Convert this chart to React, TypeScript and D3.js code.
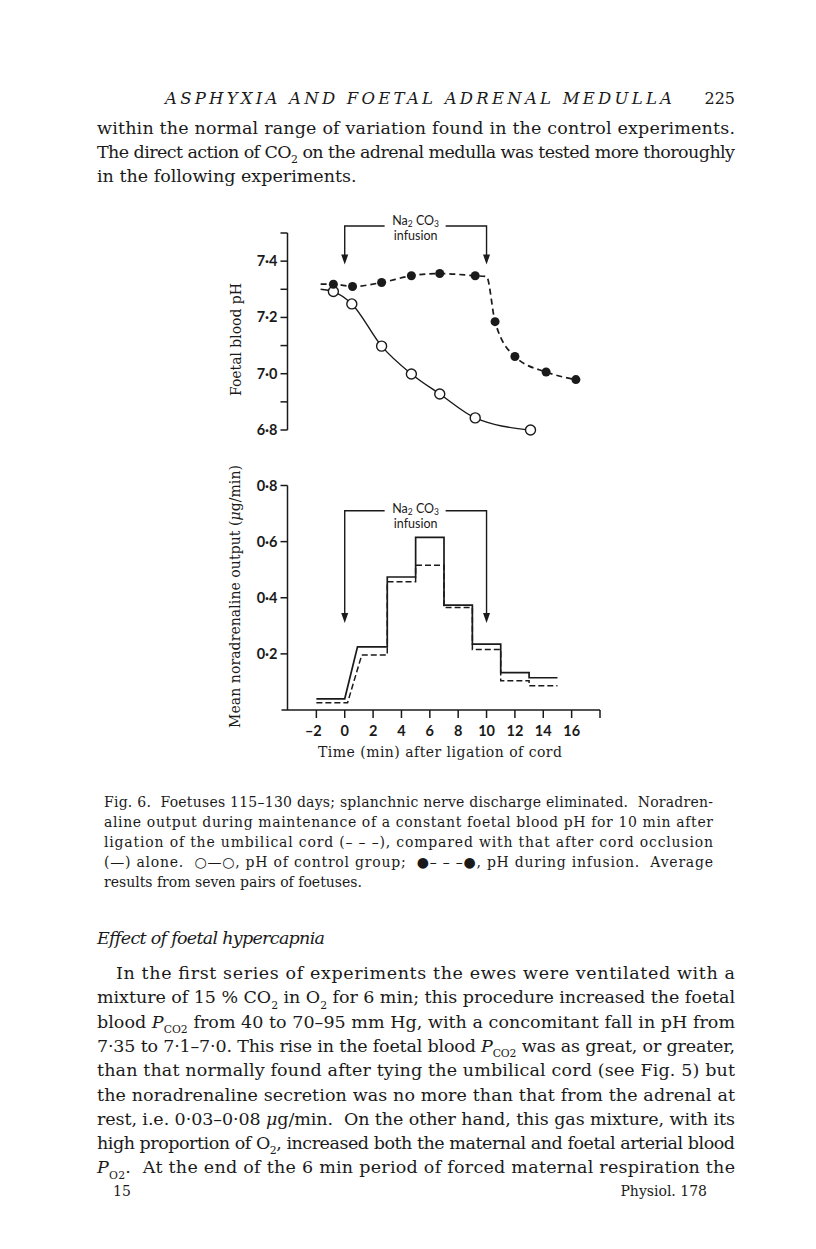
import React from "react";
import * as d3 from "d3";

// ---------- figure data ----------
const timeTicks = [-2, 0, 2, 4, 6, 8, 10, 12, 14, 16, 18];
const timeLabels = [-2, 0, 2, 4, 6, 8, 10, 12, 14, 16];
const phTicks = [6.8, 6.9, 7.0, 7.1, 7.2, 7.3, 7.4, 7.5];
const phLabels = [6.8, 7.0, 7.2, 7.4];
const outTicks = [0.2, 0.4, 0.6, 0.8];

// pH of control group (open circles, solid line)
const ctrlTime = [-0.8, 0.5, 2.6, 4.7, 6.7, 9.2, 13.1];
const ctrlPH = [7.292, 7.248, 7.098, 6.999, 6.928, 6.843, 6.8];
// pH during infusion (filled circles, dashed line)
const infTime = [-0.8, 0.55, 2.6, 4.7, 6.7, 9.2, 10.6, 12.0, 14.2, 16.3];
const infPH = [7.318, 7.31, 7.324, 7.348, 7.356, 7.348, 7.185, 7.061, 7.006, 6.979];
// extra knots of the drawn curves (lead-in and knee)
const ctrlLeadIn = { t: -1.7, v: 7.3 };
const infLeadIn = { t: -1.7, v: 7.318 };
const infKnee = { t: 10.0, v: 7.345 };

// noradrenaline output, cord occlusion alone (solid steps)
const ctrlBinStart = [-2, 0.9, 3, 5, 7, 9, 11, 13];
const ctrlBinEnd = [0, 3, 5, 7, 9, 11, 13, 15];
const ctrlOut = [0.04, 0.225, 0.474, 0.615, 0.374, 0.235, 0.133, 0.115];
// noradrenaline output, with Na2CO3 infusion (dashed steps)
const infBinStart = [-2, 1.2, 3, 5, 7, 9, 11, 13];
const infBinEnd = [0.2, 3, 5, 7, 9, 11, 13, 15];
const infOut = [0.026, 0.196, 0.457, 0.516, 0.365, 0.216, 0.104, 0.086];

const infusionStart = 0;
const infusionEnd = 10;

// ---------- page text ----------
const header = "ASPHYXIA AND FOETAL ADRENAL MEDULLA";
const pageNo = "225";
const topLines = [
  "within the normal range of variation found in the control experiments.",
  "The direct action of CO[2] on the adrenal medulla was tested more thoroughly",
  "in the following experiments.",
];
const captionLines = [
  "Fig. 6.  Foetuses 115–130 days; splanchnic nerve discharge eliminated.  Noradren-",
  "aline output during maintenance of a constant foetal blood pH for 10 min after",
  "ligation of the umbilical cord (– – –), compared with that after cord occlusion",
  "(—) alone.  ○—○, pH of control group;  ●– – –●, pH during infusion.  Average",
  "results from seven pairs of foetuses.",
];
const sectionTitle = "Effect of foetal hypercapnia";
const bodyLines = [
  "In the first series of experiments the ewes were ventilated with a",
  "mixture of 15 % CO[2] in O[2] for 6 min; this procedure increased the foetal",
  "blood {P}[CO2] from 40 to 70–95 mm Hg, with a concomitant fall in pH from",
  "7·35 to 7·1–7·0. This rise in the foetal blood {P}[CO2] was as great, or greater,",
  "than that normally found after tying the umbilical cord (see Fig. 5) but",
  "the noradrenaline secretion was no more than that from the adrenal at",
  "rest, i.e. 0·03–0·08 {μ}g/min.  On the other hand, this gas mixture, with its",
  "high proportion of O[2], increased both the maternal and foetal arterial blood",
  "{P}[O2].  At the end of the 6 min period of forced maternal respiration the",
];

const SERIF = "'DejaVu Serif', 'Liberation Serif', serif";
const SANS = "Lato, 'Open Sans', sans-serif";
const INK = "#1a1a1a";

const fmt = (v) => v.toFixed(1).replace(".", "·");
const fmtT = (v) => (v < 0 ? "–" + Math.abs(v) : String(v));

// tiny markup: {italic}, [subscript]
const RichLine = ({ x, y, text, size, width, anchor = "start" }) => {
  const parts = text.split(/(\{[^}]*\}|\[[^\]]*\])/).filter((p) => p !== "");
  const shift = size * 0.3;
  let down = false;
  const spans = parts.map((p, i) => {
    if (p.startsWith("[")) {
      const dy = down ? 0 : shift;
      down = true;
      return (
        <tspan key={i} dy={dy} fontSize={size * 0.62}>
          {p.slice(1, -1)}
        </tspan>
      );
    }
    const dy = down ? -shift : 0;
    down = false;
    if (p.startsWith("{"))
      return (
        <tspan key={i} dy={dy} fontStyle="italic">
          {p.slice(1, -1)}
        </tspan>
      );
    return (
      <tspan key={i} dy={dy}>
        {p}
      </tspan>
    );
  });
  return (
    <text
      x={x}
      y={y}
      fontSize={size}
      fontFamily={SERIF}
      fill={INK}
      textAnchor={anchor}
      xmlSpace="preserve"
      {...(width ? { textLength: width, lengthAdjust: "spacing" } : {})}
    >
      {spans}
    </text>
  );
};

const App = () => {
  const x = d3.scaleLinear().domain([-4, 18]).range([288, 600]);
  const yPH = d3.scaleLinear().domain([6.8, 7.5]).range([430, 233]);
  const yOut = d3.scaleLinear().domain([0, 0.8]).range([710, 485.5]);
  const axisX = x(-4) - 0.5;

  const ctrlPts = [ctrlLeadIn, ...ctrlTime.map((t, i) => ({ t, v: ctrlPH[i] }))];
  const infPts = [
    infLeadIn,
    ...infTime.slice(0, 6).map((t, i) => ({ t, v: infPH[i] })),
    infKnee,
    ...infTime.slice(6).map((t, i) => ({ t, v: infPH[i + 6] })),
  ];
  const phLine = d3
    .line()
    .x((d) => x(d.t))
    .y((d) => yPH(d.v))
    .curve(d3.curveMonotoneX);

  const steps = (starts, ends, vals) =>
    starts.flatMap((s, i) => [
      [x(s), yOut(vals[i])],
      [x(ends[i]), yOut(vals[i])],
    ]);
  const stepLine = d3.line();

  const bracket = (yLine, yTip, labelY) => {
    const x0 = x(infusionStart);
    const x1 = x(infusionEnd);
    const mid = (x0 + x1) / 2;
    return (
      <g>
        <path
          d={`M${x0},${yTip - 9}V${yLine}H${mid - 31}M${mid + 30},${yLine}H${x1}V${yTip - 9}`}
          fill="none"
          stroke={INK}
          strokeWidth={1.4}
        />
        <path d={`M${x0 - 3.5},${yTip - 10}L${x0 + 3.5},${yTip - 10}L${x0},${yTip}Z`} fill={INK} />
        <path d={`M${x1 - 3.5},${yTip - 10}L${x1 + 3.5},${yTip - 10}L${x1},${yTip}Z`} fill={INK} />
        <text x={mid} y={labelY} textAnchor="middle" fontFamily={SANS} fontSize={12.5} fill={INK}>
          Na
          <tspan fontSize={8.5} dy={2}>2</tspan>
          <tspan dy={-2}> CO</tspan>
          <tspan fontSize={8.5} dy={2}>3</tspan>
        </text>
        <text x={mid} y={labelY + 15} textAnchor="middle" fontFamily={SANS} fontSize={12.5} fill={INK}>
          infusion
        </text>
      </g>
    );
  };

  const sty = { fontFamily: SANS, fontWeight: 700, fontSize: 14.5, fill: INK };

  return (
    <svg
      width={816}
      height={1249}
      style={{ position: "absolute", left: 0, top: 0, background: "#fff" }}
    >
      <rect width={816} height={1249} fill="#fff" />

      {/* running head */}
      <text
        x={165}
        y={104}
        fontFamily={SERIF}
        fontStyle="italic"
        fontSize={16.5}
        fill={INK}
        textLength={507}
        lengthAdjust="spacing"
      >
        {header}
      </text>
      <text x={735} y={104} textAnchor="end" fontFamily={SERIF} fontSize={16} fill={INK}>
        {pageNo}
      </text>

      {topLines.map((l, i) => (
        <RichLine
          key={i}
          x={97}
          y={134 + i * 24}
          text={l}
          size={17.5}
          width={i < topLines.length - 1 ? 638 : undefined}
        />
      ))}

      {/* ---------- upper panel: foetal blood pH ---------- */}
      <g>
        <line x1={axisX} x2={axisX} y1={yPH(7.5)} y2={yPH(6.8)} stroke={INK} strokeWidth={1.5} />
        {phTicks.map((t) => (
          <line key={t} x1={axisX - 7} x2={axisX} y1={yPH(t)} y2={yPH(t)} stroke={INK} strokeWidth={1.5} />
        ))}
        {phLabels.map((t) => (
          <text key={t} x={axisX - 10} y={yPH(t) + 5} textAnchor="end" {...sty}>
            {fmt(t)}
          </text>
        ))}
        <text
          transform={`translate(241,${(yPH(7.5) + yPH(6.8)) / 2 + 8}) rotate(-90)`}
          textAnchor="middle"
          fontFamily={SERIF}
          fontSize={14}
          fill={INK}
          textLength={113}
          lengthAdjust="spacing"
        >
          Foetal blood pH
        </text>

        <path d={phLine(ctrlPts)} fill="none" stroke={INK} strokeWidth={1.4} />
        <path d={phLine(infPts)} fill="none" stroke={INK} strokeWidth={1.7} strokeDasharray="6 4" />
        {ctrlTime.map((t, i) => (
          <circle key={i} cx={x(t)} cy={yPH(ctrlPH[i])} r={5} fill="#fff" stroke={INK} strokeWidth={1.4} />
        ))}
        {infTime.map((t, i) => (
          <circle key={i} cx={x(t)} cy={yPH(infPH[i])} r={4.5} fill={INK} />
        ))}
        {bracket(yPH(7.525), yPH(7.388), 225)}
      </g>

      {/* ---------- lower panel: noradrenaline output ---------- */}
      <g>
        <line x1={axisX} x2={axisX} y1={yOut(0.8)} y2={yOut(0)} stroke={INK} strokeWidth={1.5} />
        <line x1={axisX - 6} x2={x(18)} y1={yOut(0)} y2={yOut(0)} stroke={INK} strokeWidth={1.5} />
        {outTicks.map((t) => (
          <line key={t} x1={axisX - 7} x2={axisX} y1={yOut(t)} y2={yOut(t)} stroke={INK} strokeWidth={1.5} />
        ))}
        {outTicks.map((t) => (
          <text key={t} x={axisX - 10} y={yOut(t) + 5} textAnchor="end" {...sty}>
            {fmt(t)}
          </text>
        ))}
        {timeTicks.map((t) => (
          <line key={t} x1={x(t)} x2={x(t)} y1={yOut(0)} y2={yOut(0) + 8} stroke={INK} strokeWidth={1.5} />
        ))}
        {timeLabels.map((t) => (
          <text key={t} x={x(t) - (t < 0 ? 3 : 0)} y={736} textAnchor="middle" {...sty}>
            {fmtT(t)}
          </text>
        ))}
        <text
          x={440}
          y={757}
          textAnchor="middle"
          fontFamily={SERIF}
          fontSize={14}
          fill={INK}
          textLength={244}
          lengthAdjust="spacing"
        >
          Time (min) after ligation of cord
        </text>
        <text
          transform={`translate(240,${(465 + 728) / 2}) rotate(-90)`}
          textAnchor="middle"
          fontFamily={SERIF}
          fontSize={14}
          fill={INK}
          textLength={263}
          lengthAdjust="spacing"
        >
          Mean noradrenaline output (<tspan fontStyle="italic">μ</tspan>g/min)
        </text>

        <path d={stepLine(steps(ctrlBinStart, ctrlBinEnd, ctrlOut))} fill="none" stroke={INK} strokeWidth={1.7} />
        <path
          d={stepLine(steps(infBinStart, infBinEnd, infOut))}
          fill="none"
          stroke={INK}
          strokeWidth={1.5}
          strokeDasharray="6 3"
        />
        {bracket(yOut(0.71), yOut(0.31), 513)}
      </g>

      {/* caption */}
      {captionLines.map((l, i) => (
        <RichLine
          key={i}
          x={104}
          y={807 + i * 20}
          text={l}
          size={14}
          width={i < captionLines.length - 1 ? 609 : undefined}
        />
      ))}

      <text
        x={97}
        y={944}
        fontFamily={SERIF}
        fontStyle="italic"
        fontSize={17.5}
        fill={INK}
        textLength={228}
        lengthAdjust="spacing"
      >
        {sectionTitle}
      </text>

      {bodyLines.map((l, i) => (
        <RichLine
          key={i}
          x={i === 0 ? 116 : 97}
          y={979 + i * 24.3}
          text={l}
          size={17.5}
          width={i === 0 ? 619 : 638}
        />
      ))}

      <text x={113} y={1196} fontFamily={SERIF} fontSize={14} fill={INK}>
        15
      </text>
      <text x={707} y={1196} textAnchor="end" fontFamily={SERIF} fontSize={14} fill={INK}>
        Physiol. 178
      </text>
    </svg>
  );
};

export default App;
